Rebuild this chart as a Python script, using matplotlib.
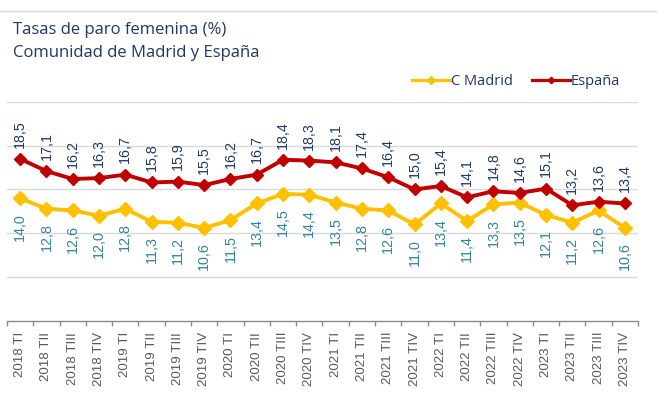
import matplotlib
matplotlib.use("Agg")
import matplotlib.pyplot as plt
import numpy as np

categories = ["2018 TI", "2018 TII", "2018 TIII", "2018 TIV",
              "2019 TI", "2019 TII", "2019 TIII", "2019 TIV",
              "2020 TI", "2020 TII", "2020 TIII", "2020 TIV",
              "2021 TI", "2021 TII", "2021 TIII", "2021 TIV",
              "2022 TI", "2022 TII", "2022 TIII", "2022 TIV",
              "2023 TI", "2023 TII", "2023 TIII", "2023 TIV"]
madrid = [14.0, 12.8, 12.6, 12.0, 12.8, 11.3, 11.2, 10.6, 11.5, 13.4, 14.5, 14.4,
          13.5, 12.8, 12.6, 11.0, 13.4, 11.4, 13.3, 13.5, 12.1, 11.2, 12.6, 10.6]
espana = [18.5, 17.1, 16.2, 16.3, 16.7, 15.8, 15.9, 15.5, 16.2, 16.7, 18.4, 18.3,
          18.1, 17.4, 16.4, 15.0, 15.4, 14.1, 14.8, 14.6, 15.1, 13.2, 13.6, 13.4]

W, H = 657, 413
fig = plt.figure(figsize=(W / 100, H / 100), dpi=100)
ax = fig.add_axes([7 / W, 1 - 320.7 / H, (638 - 7) / W, (320.7 - 102) / H])

x = np.arange(len(categories))
ax.set_xlim(-0.5, len(categories) - 0.5)
ax.set_ylim(0, 25)

for y in [5, 10, 15, 20, 25]:
    ax.axhline(y, color="#D9D9D9", lw=1.0, zorder=0)

ax.plot(x, madrid, color="#FFC000", lw=2.8, marker="D", ms=7, label="C Madrid", zorder=3)
ax.plot(x, espana, color="#C00000", lw=2.8, marker="D", ms=6, label="España", zorder=3)

fmt = lambda v: f"{v:.1f}".replace(".", ",")
for xi, v in zip(x, espana):
    ax.annotate(fmt(v), (xi, v), xytext=(0, 8), textcoords="offset points",
                rotation=90, ha="center", va="bottom", fontsize=10.3,
                color="#1F3864", family="Liberation Sans", annotation_clip=False)
for xi, v in zip(x, madrid):
    ax.annotate(fmt(v), (xi, v), xytext=(0, -10.5), textcoords="offset points",
                rotation=90, ha="center", va="top", fontsize=10.3,
                color="#31849B", family="Liberation Sans", annotation_clip=False)

for s in ["top", "right", "left"]:
    ax.spines[s].set_visible(False)
ax.spines["bottom"].set_color("#8C8C8C")
ax.spines["bottom"].set_linewidth(1.0)
ax.set_yticks([])
ax.set_xticks(x)
ax.set_xticklabels(categories, rotation=90, fontsize=9.6, color="#595959", family="Liberation Sans")
ax.tick_params(axis="x", which="major", length=0, pad=8)
ax.set_xticks(np.arange(-0.5, len(categories)), minor=True)
ax.tick_params(axis="x", which="minor", length=3.5, color="#8C8C8C", width=1.0)

leg = ax.legend(loc="center right", bbox_to_anchor=((626 - 7) / (638 - 7), (320.7 - 82) / (320.7 - 102)),
                ncol=2, frameon=False, fontsize=10.5, handlelength=2.6, handletextpad=0.08,
                columnspacing=1.3, borderaxespad=0, markerscale=0.55)
for t in leg.get_texts():
    t.set_color("#1F3864")
    t.set_family("Open Sans")
for h in leg.get_lines():
    h.set_linewidth(2.3)

fig.text(13 / W, 1 - 30 / H, "Tasas de paro femenina (%)", fontsize=12, color="#1F3864",
         family="Open Sans", va="center", ha="left")
fig.text(13 / W, 1 - 53 / H, "Comunidad de Madrid y España", fontsize=12, color="#1F3864",
         family="Open Sans", va="center", ha="left")

fig.add_artist(plt.Line2D([0, 1], [1 - 11 / H, 1 - 11 / H], transform=fig.transFigure,
                          color="#D9D9D9", lw=1.0))

fig.savefig("out.png", dpi=100)
